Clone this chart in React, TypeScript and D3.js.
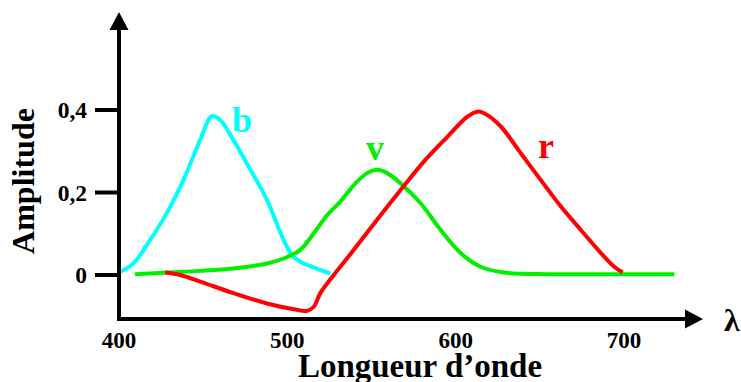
import React from "react";
import * as d3 from "d3";

const W = 741;
const H = 382;

const xTicks = [400, 500, 600, 700];
const xTickLabels = ["400", "500", "600", "700"];
const yTicks = [0, 0.2, 0.4];
const yTickLabels = ["0", "0,2", "0,4"];

const blueLambda = [400.6, 408.5, 418.5, 428.4, 438.3, 448.2, 455.2, 460.1, 468, 478.1, 487.9, 497.8, 502.8, 507.7, 525.6];
const blueValue = [0.008, 0.028, 0.085, 0.15, 0.23, 0.327, 0.385, 0.376, 0.327, 0.255, 0.182, 0.085, 0.048, 0.032, 0.004];

const greenLambda = [409.5, 428.4, 448.2, 468, 487.9, 497.8, 507.7, 515.7, 523.6, 531.5, 539.5, 547.4, 553.6, 559.3, 567.3, 579.2, 591.1, 603, 614.9, 628.8, 654.6, 694.2, 729.9];
const greenValue = [0.002, 0.006, 0.01, 0.016, 0.028, 0.04, 0.061, 0.101, 0.145, 0.178, 0.218, 0.247, 0.255, 0.247, 0.222, 0.174, 0.109, 0.053, 0.02, 0.006, 0.002, 0.002, 0.002];

const redLambda = [427.4, 436.3, 448.2, 468, 487.9, 503.8, 511.7, 515.7, 519.6, 527.6, 539.5, 555.4, 567.3, 581.1, 595.1, 607, 612.9, 616.9, 626.8, 638.7, 650.6, 662.5, 674.4, 686.3, 694.2, 699.2];
const redValue = [0.006, 0.0, -0.016, -0.044, -0.069, -0.083, -0.087, -0.077, -0.044, 0.0, 0.061, 0.145, 0.206, 0.275, 0.335, 0.384, 0.396, 0.392, 0.36, 0.295, 0.23, 0.166, 0.109, 0.053, 0.02, 0.006];

const seriesNames = ["b", "v", "r"];

const FONT = "'Liberation Serif', 'Times New Roman', serif";

export default function App() {
  const x = d3.scaleLinear().domain([400, 700]).range([119, 624]);
  const y = d3.scaleLinear().domain([0, 0.4]).range([275, 110]);

  const line = d3
    .line<[number, number]>()
    .x((d) => x(d[0]))
    .y((d) => y(d[1]))
    .curve(d3.curveCatmullRom.alpha(0.5));

  const series = [
    { name: seriesNames[0], color: "#00FFFF", lam: blueLambda, val: blueValue, lx: 242, ly: 132 },
    { name: seriesNames[1], color: "#00F000", lam: greenLambda, val: greenValue, lx: 375, ly: 160 },
    { name: seriesNames[2], color: "#FF0000", lam: redLambda, val: redValue, lx: 546, ly: 158 },
  ];

  const axisX0 = 119;
  const axisY0 = 319;
  const yTop = 12;
  const xRight = 703;

  return (
    <svg width={W} height={H} style={{ position: "absolute", left: 0, top: 0 }}>
      <rect width={W} height={H} fill="#fff" />
      {yTicks.map((t, i) => (
        <g key={"yt" + i}>
          <line x1={95} x2={axisX0} y1={y(t)} y2={y(t)} stroke="#000" strokeWidth={4} />
          <text
            x={87}
            y={y(t)}
            dy="0.35em"
            textAnchor="end"
            fontFamily={FONT}
            fontWeight="bold"
            fontSize={23.5}
          >
            {yTickLabels[i]}
          </text>
        </g>
      ))}
      {xTicks.map((t, i) => (
        <text
          key={"xt" + i}
          x={x(t)}
          y={348}
          textAnchor="middle"
          fontFamily={FONT}
          fontWeight="bold"
          fontSize={23}
        >
          {xTickLabels[i]}
        </text>
      ))}
      {series.map((s) => (
        <path
          key={s.name}
          d={line(s.lam.map((l, i) => [l, s.val[i]] as [number, number])) || ""}
          fill="none"
          stroke={s.color}
          strokeWidth={4}
          strokeLinejoin="round"
          strokeLinecap="butt"
        />
      ))}
      {series.map((s) => (
        <text
          key={"l" + s.name}
          x={s.lx}
          y={s.ly}
          textAnchor="middle"
          fontFamily={FONT}
          fontWeight="bold"
          fontSize={36}
          fill={s.color}
        >
          {s.name}
        </text>
      ))}
      <line x1={axisX0} x2={axisX0} y1={axisY0 + 2} y2={yTop + 14} stroke="#000" strokeWidth={4} />
      <path d={`M${axisX0},${yTop} L${axisX0 - 9.5},${yTop + 18} L${axisX0 + 9.5},${yTop + 18} Z`} fill="#000" />
      <line x1={axisX0 - 2} x2={xRight - 14} y1={axisY0} y2={axisY0} stroke="#000" strokeWidth={4} />
      <path d={`M${xRight},${axisY0} L${xRight - 18},${axisY0 - 9.5} L${xRight - 18},${axisY0 + 9.5} Z`} fill="#000" />
      <text x={724} y={331} fontFamily={FONT} fontWeight="bold" fontSize={32}>
        λ
      </text>
      <text
        x={420}
        y={377}
        textAnchor="middle"
        fontFamily={FONT}
        fontWeight="bold"
        fontSize={33}
      >
        Longueur d’onde
      </text>
      <text
        transform={`translate(34,181) rotate(-90)`}
        textAnchor="middle"
        fontFamily={FONT}
        fontWeight="bold"
        fontSize={32}
      >
        Amplitude
      </text>
    </svg>
  );
}
